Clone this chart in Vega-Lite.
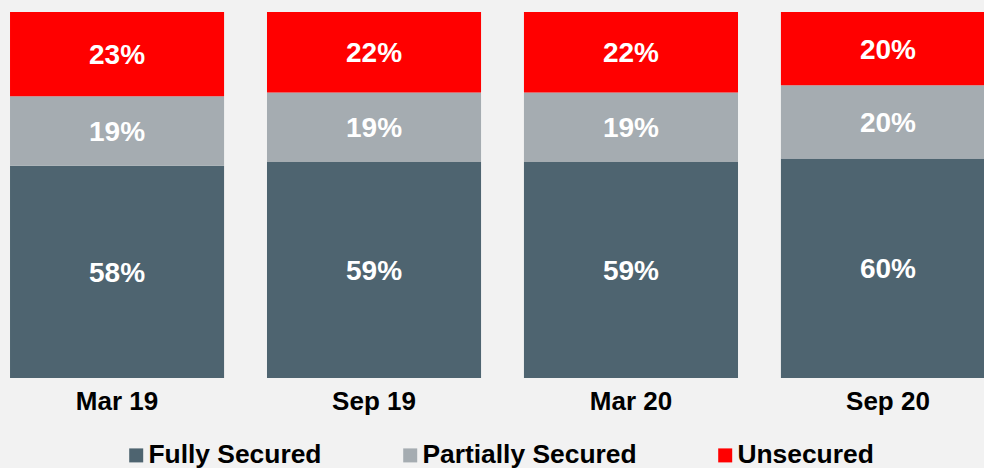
{
  "$schema": "https://vega.github.io/schema/vega-lite/v6.json",
  "width": 984,
  "height": 366,
  "autosize": {"type": "none"},
  "padding": {"left": 0, "top": 12, "right": 0, "bottom": 90},
  "background": "#f2f2f2",
  "config": {
    "view": {"stroke": null},
    "font": "Liberation Sans"
  },
  "data": {
    "values": [
      {"period": "Mar 19", "series": "Fully Secured", "value": 58},
      {"period": "Mar 19", "series": "Partially Secured", "value": 19},
      {"period": "Mar 19", "series": "Unsecured", "value": 23},
      {"period": "Sep 19", "series": "Fully Secured", "value": 59},
      {"period": "Sep 19", "series": "Partially Secured", "value": 19},
      {"period": "Sep 19", "series": "Unsecured", "value": 22},
      {"period": "Mar 20", "series": "Fully Secured", "value": 59},
      {"period": "Mar 20", "series": "Partially Secured", "value": 19},
      {"period": "Mar 20", "series": "Unsecured", "value": 22},
      {"period": "Sep 20", "series": "Fully Secured", "value": 60},
      {"period": "Sep 20", "series": "Partially Secured", "value": 20},
      {"period": "Sep 20", "series": "Unsecured", "value": 20}
    ]
  },
  "transform": [
    {"stack": "value", "groupby": ["period"], "sort": [{"field": "series", "order": "ascending"}], "as": ["y0", "y1"]},
    {"calculate": "(datum.y0 + datum.y1) / 2", "as": "ymid"},
    {"calculate": "datum.value + '%'", "as": "label"}
  ],
  "encoding": {
    "x": {
      "field": "period",
      "type": "nominal",
      "sort": ["Mar 19", "Sep 19", "Mar 20", "Sep 20"],
      "scale": {"range": [0, 1005], "paddingInner": 0.167, "paddingOuter": 0.039},
      "axis": {
        "title": null,
        "labelAngle": 0,
        "ticks": false,
        "domain": false,
        "labelFontSize": 26,
        "labelFontWeight": "bold",
        "labelColor": "#000000",
        "labelPadding": 10,
        "labelBaseline": "top"
      }
    }
  },
  "layer": [
    {
      "mark": {"type": "bar", "clip": true},
      "encoding": {
        "y": {"field": "y0", "type": "quantitative", "scale": {"domain": [0, 100], "nice": false}, "axis": null},
        "y2": {"field": "y1"},
        "color": {
          "field": "series",
          "type": "nominal",
          "scale": {
            "domain": ["Fully Secured", "Partially Secured", "Unsecured"],
            "range": ["#4e6470", "#a5acb1", "#ff0000"]
          },
          "legend": {
            "title": null,
            "orient": "none",
            "direction": "horizontal",
            "legendX": 123,
            "legendY": 430,
            "symbolType": "square",
            "symbolSize": 196,
            "symbolStrokeWidth": 0,
            "labelFontSize": 26.4,
            "labelFontWeight": "bold",
            "labelColor": "#000000",
            "labelOffset": -1,
            "labelLimit": 400,
            "columnPadding": 75
          }
        }
      }
    },
    {
      "mark": {"type": "text", "color": "#ffffff", "fontSize": 28, "fontWeight": "bold", "baseline": "middle", "dy": 2, "clip": true},
      "encoding": {
        "y": {"field": "ymid", "type": "quantitative"},
        "text": {"field": "label"}
      }
    }
  ]
}
